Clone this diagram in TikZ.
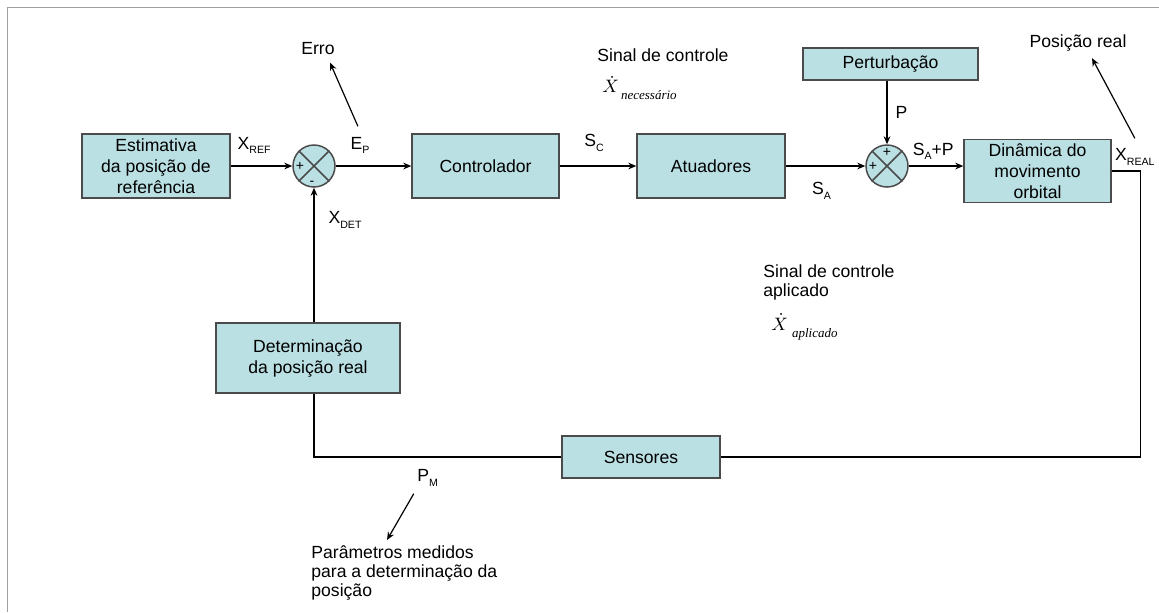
\documentclass[tikz,border=0pt]{standalone}
\usepackage{fontspec}
\setmainfont{Liberation Sans}
\newfontfamily\timesfont{Liberation Serif}
\usetikzlibrary{arrows.meta,positioning}

\definecolor{boxfill}{RGB}{186,224,227}
\definecolor{boxline}{RGB}{75,75,75}
\definecolor{framegray}{RGB}{160,160,160}
\newcommand{\subidx}[1]{\raisebox{-2.2pt}{\fontsize{5.3}{5.3}\selectfont #1}}
\newcommand{\dotsig}[2][2pt]{$\dot{X}$\hspace{#1}\raisebox{-3.5pt}{\timesfont\itshape\fontsize{6.5}{6.5}\selectfont #2}}

\begin{document}
\begin{tikzpicture}[x=0.5pt,y=-0.5pt,>={Stealth[length=4pt,width=3.4pt]},
  every node/.style={font=\fontsize{8.8}{10.5}\selectfont},
  block/.style={draw=boxline,line width=0.75pt,fill=boxfill,align=center,inner sep=0pt},
  junction/.style={draw=boxline,line width=0.75pt,fill=boxfill,circle,minimum size=21pt,inner sep=0pt},
  sign/.style={inner sep=0pt,font=\fontsize{7}{7}\selectfont},
  sig/.style={inner sep=0pt},
  note/.style={inner sep=0pt,align=left,font=\fontsize{8.8}{9.5}\selectfont},
  wire/.style={line width=0.6pt}]
\useasboundingbox (0,0) rectangle (1159,612);
\draw[framegray,line width=0.75pt] (7.5,612) -- (7.5,7.5) -- (1159,7.5);

% blocos da malha
\node[block,minimum width=74pt,minimum height=32pt] (b_est) at (156,166) {Estimativa\\da posição de\\referência};
\node[junction] (j_1) at (314,166) {};
\node[block,minimum width=73.5pt,minimum height=32pt] (b_ctrl) at (485.5,166) {Controlador};
\node[block,minimum width=74pt,minimum height=32pt] (b_act) at (711,166) {Atuadores};
\node[junction] (j_2) at (887,166) {};
\node[block,minimum width=87.5pt,minimum height=16pt] (b_pert) at (890.5,64) {Perturbação};
\node[block,minimum width=73.5pt,minimum height=31.5pt] (b_dyn) at (1037.5,171) {Dinâmica do\\movimento\\orbital};
\node[block,minimum width=79pt,minimum height=21pt] (b_sens) at (641,457) {Sensores};
\node[block,minimum width=92pt,minimum height=35pt] (b_det) at (308,358) {Determinação\\da posição real};

% somadores
\foreach \j in {j_1,j_2}
  \draw[boxline,line width=0.75pt] (\j.45) -- (\j.225) (\j.135) -- (\j.315);
\node[sign] at ([xshift=-7pt]j_1.center) {+};
\node[sign] at ([xshift=-1pt,yshift=-8.5pt]j_1.center) {-};
\node[sign] at ([xshift=-7pt]j_2.center) {+};
\node[sign] at ([yshift=7pt]j_2.center) {+};

\path[wire,->] (b_est) edge node[sig,pos=0.38,above=6pt] {X\subidx{REF}} (j_1)
  (j_1) edge node[sig,pos=0.32,above=6pt] (l_ep) {E\subidx{P}} (b_ctrl)
  (b_ctrl) edge node[sig,pos=0.45,above=7pt] {S\subidx{C}} (b_act)
  (b_act) edge node[sig,pos=0.45,below=8pt] {S\subidx{A}} (j_2)
  (b_pert.south -| j_2) edge node[sig,right=4pt] {P} (j_2.north)
  (j_2.east) edge node[sig,pos=0.45,above=3pt] {S\subidx{A}+P} (j_2 -| b_dyn.west)
  (b_det.north -| j_1) edge node[sig,pos=0.76,right=7pt] {X\subidx{DET}} (j_1.south);

% realimentacao
\node[sig,anchor=west] (l_xreal) at ([shift={(3,-14)}]b_dyn.east) {X\subidx{REAL}};
\draw[wire] (b_dyn.east) -- ++(29,0) |- (b_sens.east);
\draw[wire] (b_sens.west) -| (b_det.south -| j_1) node[sig,pos=0.27,below=6pt] (l_pm) {P\subidx{M}};

% textos soltos
\node[sig,anchor=base] (t_erro) at (318,54) {Erro};
\node[sig,anchor=base] (t_real) at (1078,47) {Posição real};
\node[sig] (t_sinal) at (663,55) {Sinal de controle};
\node[sig,anchor=west,font=\fontsize{9.5}{9.5}\selectfont] (t_xnec) at (602,88) {\dotsig[1pt]{necessário}};
\node[note,anchor=north west] (t_apl) at (763,264) {Sinal de controle\\aplicado};
\node[sig,anchor=west,font=\fontsize{9.5}{9.5}\selectfont] (t_xapl) at (771,327) {\dotsig{aplicado}};
\node[note,anchor=north west] (t_param) at (311,545) {Parâmetros medidos\\para a determinação da\\posição};

\draw[wire,->] ([shift={(-2,-10)}]l_ep.north) -- ([shift={(12,8)}]t_erro.south);
\draw[wire,->] ([shift={(0,-10)}]l_xreal.north) -- ([shift={(14,7)}]t_real.south);
\draw[wire,->] ([shift={(-14,7)}]l_pm.south) -- ([shift={(76,-5)}]t_param.north west);
\end{tikzpicture}
\end{document}
